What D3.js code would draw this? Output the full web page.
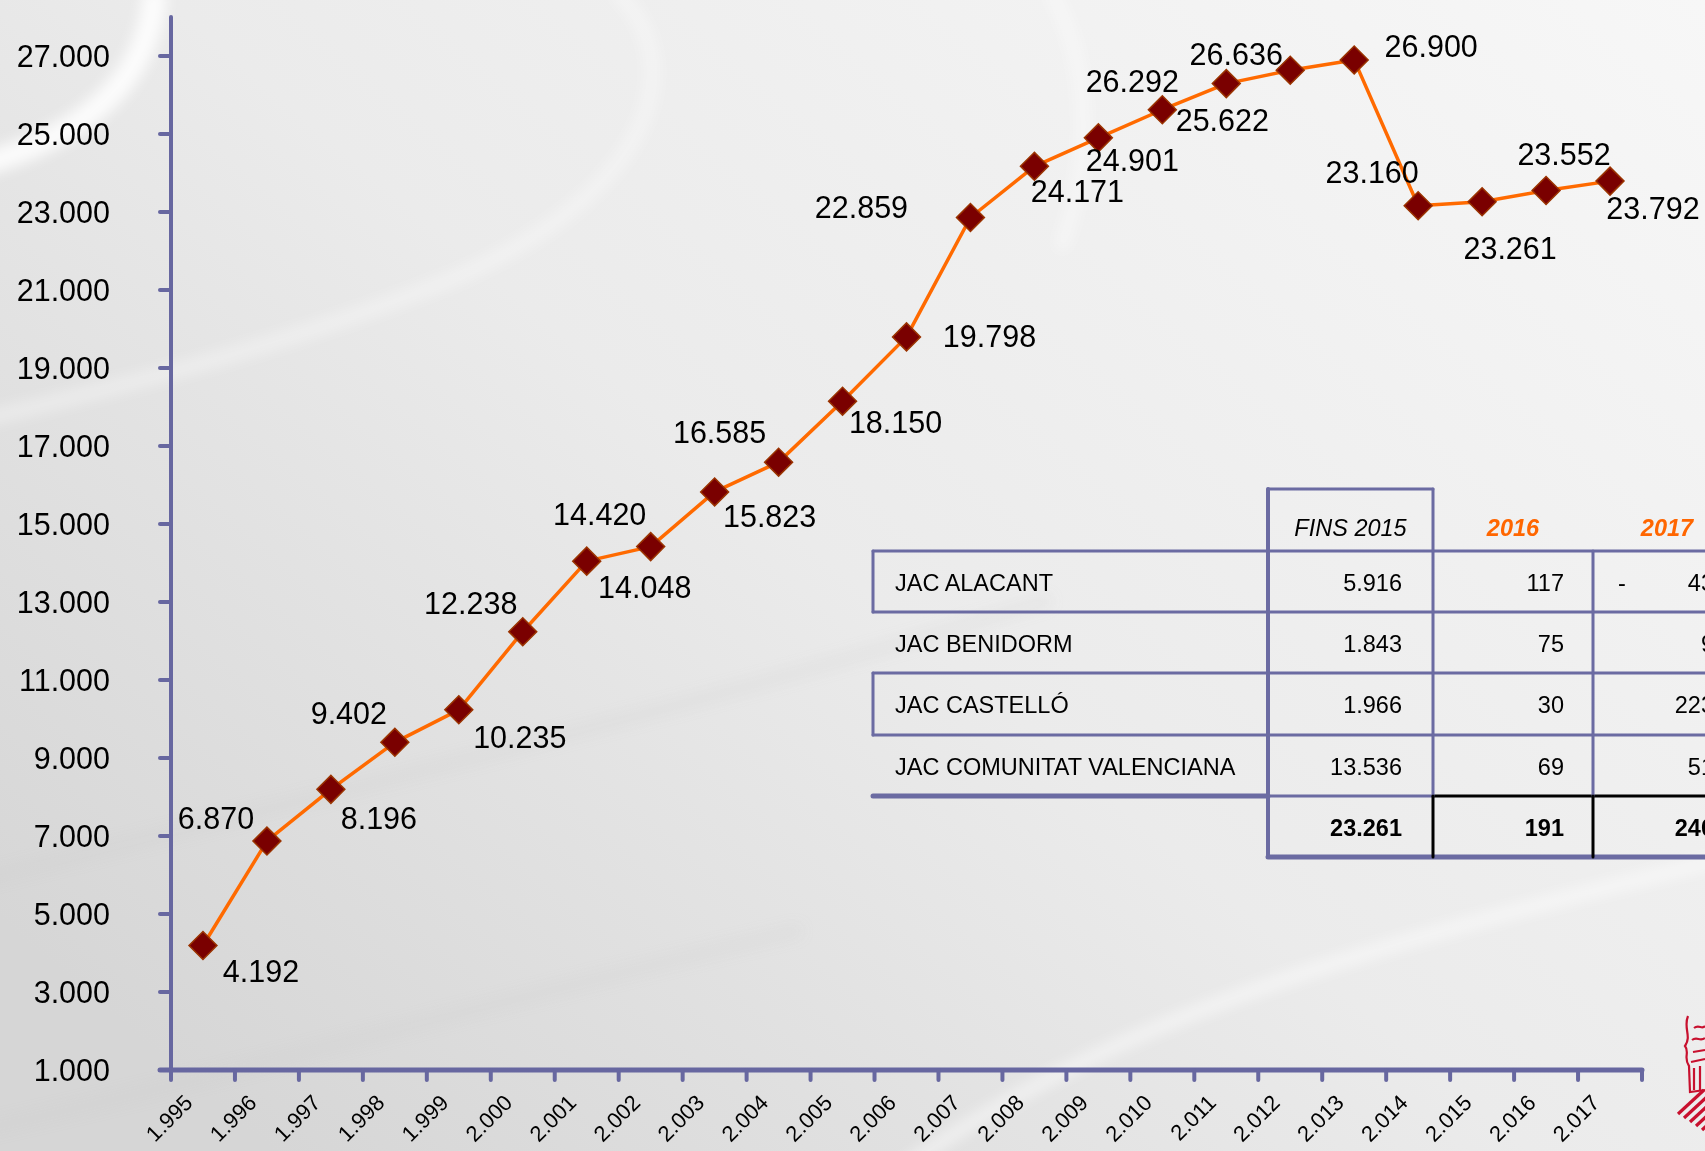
<!DOCTYPE html>
<html>
<head>
<meta charset="utf-8">
<script src="https://cdn.jsdelivr.net/npm/d3@7"></script>
<style>
  html, body { margin: 0; padding: 0; overflow: hidden; }
  svg { display: block; font-family: "Liberation Sans", Arial, sans-serif; }
</style>
</head>
<body>
<svg width="1705" height="1151"></svg>
<script>
// years on the x axis
var years = [1995, 1996, 1997, 1998, 1999, 2000, 2001, 2002, 2003, 2004, 2005, 2006,
             2007, 2008, 2009, 2010, 2011, 2012, 2013, 2014, 2015, 2016, 2017];
// accumulated totals per year
var totals = [4192, 6870, 8196, 9402, 10235, 12238, 14048, 14420, 15823, 16585, 18150, 19798,
              22859, 24171, 24901, 25622, 26292, 26636, 26900, 23160, 23261, 23552, 23792];
var yTicks = [1000, 3000, 5000, 7000, 9000, 11000, 13000, 15000, 17000, 19000, 21000, 23000, 25000, 27000];

// table
var tableHeads = ["FINS 2015", "2016", "2017"];
var tableNames = ["JAC ALACANT", "JAC BENIDORM", "JAC CASTELLÓ", "JAC COMUNITAT VALENCIANA"];
var fins2015 = [5916, 1843, 1966, 13536];
var v2016 = [117, 75, 30, 69];
var v2017 = [-43, 9, 223, 51];
var tableTotals = [23261, 191, 240];

// where each value label sits relative to its marker (px)
var labelOffsets = [[58, 25], [-51, -23], [48, 29], [-46, -29], [61, 27], [-52, -29], [58, 26],
                    [-51, -33], [55, 24], [-59, -30], [53, 21], [83, -1], [-109, -10], [43, 25],
                    [34, 22], [60, 10], [-94, -3], [-54, -16], [77, -14], [-46, -34], [28, 46],
                    [18, -36], [43, 27]];

var es = d3.formatLocale({decimal: ",", thousands: ".", grouping: [3], currency: ["", ""]});
var fmt = es.format(",.0f");

var svg = d3.select("svg");
var axisColor = "#6767a0";

// background
var defs = svg.append("defs");
var bg = defs.append("linearGradient").attr("id", "bg")
    .attr("x1", "100%").attr("y1", "0%").attr("x2", "0%").attr("y2", "80%");
bg.append("stop").attr("offset", "0%").attr("stop-color", "#f7f7f7");
bg.append("stop").attr("offset", "55%").attr("stop-color", "#ebebeb");
bg.append("stop").attr("offset", "100%").attr("stop-color", "#d6d6d6");
var blur = defs.append("filter").attr("id", "blur")
    .attr("x", "-20%").attr("y", "-20%").attr("width", "140%").attr("height", "140%");
blur.append("feGaussianBlur").attr("stdDeviation", 7);

svg.append("rect").attr("width", 1705).attr("height", 1151).attr("fill", "url(#bg)");

var swoosh = svg.append("g").attr("fill", "none").attr("filter", "url(#blur)");
swoosh.append("path").attr("d", "M-20,165 C70,140 150,90 155,-10")
    .attr("stroke", "#fff").attr("stroke-width", 24).attr("opacity", 0.85);
swoosh.append("path").attr("d", "M615,-10 C690,60 660,190 450,280 C300,340 150,380 -20,420")
    .attr("stroke", "#fff").attr("stroke-width", 16).attr("opacity", 0.35);
swoosh.append("path").attr("d", "M1050,-10 C1095,70 1090,170 1060,250")
    .attr("stroke", "#fff").attr("stroke-width", 14).attr("opacity", 0.4);
swoosh.append("path").attr("d", "M900,1170 C1100,1030 1300,960 1720,860")
    .attr("stroke", "#fff").attr("stroke-width", 14).attr("opacity", 0.5);
swoosh.append("path").attr("d", "M-20,880 C300,800 650,720 1050,600")
    .attr("stroke", "#c9c9c9").attr("stroke-width", 8).attr("opacity", 0.25);
swoosh.append("path").attr("d", "M-20,1130 C250,1070 500,1000 800,930")
    .attr("stroke", "#cdcdcd").attr("stroke-width", 8).attr("opacity", 0.25);

// scales
var x = d3.scaleBand().domain(years).range([171, 1642]).padding(0);
var y = d3.scaleLinear().domain([1000, 28000]).range([1070, 17]);
var bw = x.bandwidth();

// y axis
var yAxis = svg.append("g");
yAxis.append("line")
    .attr("x1", 171).attr("x2", 171).attr("y1", y(28000)).attr("y2", y(1000))
    .attr("stroke", axisColor).attr("stroke-width", 4).attr("stroke-linecap", "round");
yAxis.selectAll(".ytick").data(yTicks).enter().append("line")
    .attr("x1", 160).attr("x2", 171)
    .attr("y1", d => y(d)).attr("y2", d => y(d))
    .attr("stroke", axisColor).attr("stroke-width", 4).attr("stroke-linecap", "round");
yAxis.selectAll(".ylab").data(yTicks).enter().append("text")
    .attr("x", 110).attr("y", d => y(d))
    .attr("text-anchor", "end").attr("dominant-baseline", "central")
    .attr("font-size", "30.5px").attr("fill", "#000")
    .text(d => fmt(d));

// x axis
var xAxis = svg.append("g");
xAxis.append("line")
    .attr("x1", 160).attr("x2", x(years[years.length - 1]) + bw)
    .attr("y1", y(1000)).attr("y2", y(1000))
    .attr("stroke", axisColor).attr("stroke-width", 5).attr("stroke-linecap", "round");
var edges = years.map(d => x(d)).concat([x(years[years.length - 1]) + bw]);
xAxis.selectAll(".xtick").data(edges).enter().append("line")
    .attr("x1", d => d).attr("x2", d => d)
    .attr("y1", y(1000)).attr("y2", y(1000) + 10)
    .attr("stroke", axisColor).attr("stroke-width", 4).attr("stroke-linecap", "round");
xAxis.selectAll(".xlab").data(years).enter().append("text")
    .attr("transform", d => "translate(" + (x(d) + bw / 2 - 9) + "," + 1104 + ") rotate(-45)")
    .attr("text-anchor", "end")
    .attr("font-size", "22px").attr("fill", "#000")
    .text(d => fmt(d));

// line
var pts = years.map((d, i) => ({year: d, value: totals[i], off: labelOffsets[i]}));
var line = d3.line().x(d => x(d.year) + bw / 2).y(d => y(d.value));
svg.append("path").datum(pts)
    .attr("d", line)
    .attr("fill", "none").attr("stroke", "#ff6a00").attr("stroke-width", 3.5)
    .attr("stroke-linejoin", "round");

var marker = d3.symbol().type(d3.symbolSquare).size(390);
svg.selectAll(".mark").data(pts).enter().append("path")
    .attr("d", marker)
    .attr("transform", d => "translate(" + (x(d.year) + bw / 2) + "," + y(d.value) + ") rotate(45)")
    .attr("fill", "#7a0000").attr("stroke", "#9a3300").attr("stroke-width", 1.5);

svg.selectAll(".vlab").data(pts).enter().append("text")
    .attr("x", d => x(d.year) + bw / 2 + d.off[0])
    .attr("y", d => y(d.value) + d.off[1])
    .attr("text-anchor", "middle").attr("dominant-baseline", "central")
    .attr("font-size", "30.5px").attr("fill", "#000")
    .text(d => fmt(d.value));

// table
var colX = [873, 1268, 1433, 1593, 1753];
var rowY = [489, 551, 612, 673, 735, 796, 857];
var tb = svg.append("g");
var border = "#6b6ba2";

function hline(x1, x2, yy, color, w) {
  tb.append("line").attr("x1", x1).attr("x2", x2).attr("y1", yy).attr("y2", yy)
    .attr("stroke", color).attr("stroke-width", w).attr("stroke-linecap", "round");
}
function vline(xx, y1, y2, color, w) {
  tb.append("line").attr("x1", xx).attr("x2", xx).attr("y1", y1).attr("y2", y2)
    .attr("stroke", color).attr("stroke-width", w).attr("stroke-linecap", "round");
}

hline(colX[1], colX[2], rowY[0], border, 3);
for (var r = 1; r <= 4; r++) hline(colX[0], colX[4], rowY[r], border, 3);
hline(colX[0], colX[1], rowY[5], border, 5);
hline(colX[1], colX[2], rowY[5], border, 3);
hline(colX[2], colX[4], rowY[5], "#000", 3);
hline(colX[1], colX[4], rowY[6], border, 5);
vline(colX[0], rowY[1], rowY[2], border, 3);
vline(colX[0], rowY[3], rowY[4], border, 3);
vline(colX[1], rowY[0], rowY[6], border, 4);
vline(colX[2], rowY[0], rowY[5], border, 3);
vline(colX[3], rowY[1], rowY[5], border, 3);
vline(colX[2], rowY[5], rowY[6], "#000", 3);
vline(colX[3], rowY[5], rowY[6], "#000", 3);

var cellFont = "23.5px";
tb.selectAll(".head").data(tableHeads).enter().append("text")
    .attr("x", (d, i) => i == 2 ? 1667 : (colX[i + 1] + colX[i + 2]) / 2)
    .attr("y", 528)
    .attr("text-anchor", "middle").attr("dominant-baseline", "central")
    .attr("font-size", cellFont).attr("font-style", "italic")
    .attr("font-weight", (d, i) => i == 0 ? "normal" : "bold")
    .attr("fill", (d, i) => i == 0 ? "#000" : "#ff6600")
    .text(d => d);

tableNames.forEach(function(name, i) {
  var cy = (rowY[i + 1] + rowY[i + 2]) / 2 + 1;
  tb.append("text").attr("x", 895).attr("y", cy)
      .attr("dominant-baseline", "central").attr("font-size", cellFont).text(name);
  tb.append("text").attr("x", colX[2] - 31).attr("y", cy).attr("text-anchor", "end")
      .attr("dominant-baseline", "central").attr("font-size", cellFont).text(fmt(fins2015[i]));
  tb.append("text").attr("x", colX[3] - 29).attr("y", cy).attr("text-anchor", "end")
      .attr("dominant-baseline", "central").attr("font-size", cellFont).text(fmt(v2016[i]));
  if (v2017[i] < 0) {
    tb.append("text").attr("x", 1622).attr("y", cy).attr("text-anchor", "middle")
        .attr("dominant-baseline", "central").attr("font-size", cellFont).text("-");
  }
  tb.append("text").attr("x", 1714).attr("y", cy).attr("text-anchor", "end")
      .attr("dominant-baseline", "central").attr("font-size", cellFont).text(fmt(Math.abs(v2017[i])));
});
var totY = (rowY[5] + rowY[6]) / 2 + 1;
var totX = [colX[2] - 31, colX[3] - 29, 1714];
tb.selectAll(".tot").data(tableTotals).enter().append("text")
    .attr("x", (d, i) => totX[i]).attr("y", totY)
    .attr("text-anchor", "end").attr("dominant-baseline", "central")
    .attr("font-size", cellFont).attr("font-weight", "bold")
    .text(d => fmt(d));

// coat of arms at the corner (partly cut off)
var logo = svg.append("g").attr("stroke", "#c8102e").attr("fill", "none").attr("stroke-width", 2.2);
logo.append("path").attr("d", "M1688,1016 C1683,1028 1692,1036 1685,1046 C1690,1052 1683,1058 1689,1066 L1690,1092 L1705,1090");
logo.append("path").attr("d", "M1691,1062 L1705,1059 M1694,1068 L1694,1090 M1700,1066 L1700,1090");
logo.append("path").attr("d", "M1694,1028 C1699,1024 1702,1030 1705,1026 M1692,1040 C1697,1036 1700,1042 1705,1038 M1693,1052 L1705,1050");
var stripes = svg.append("g").attr("stroke", "#c8102e").attr("stroke-width", 3.2);
[0, 1, 2, 3, 4].forEach(function(k) {
  stripes.append("line")
      .attr("x1", 1678 + k * 6).attr("y1", 1114 + k * 4)
      .attr("x2", 1704 + k * 6).attr("y2", 1090 + k * 4);
});
</script>
</body>
</html>
